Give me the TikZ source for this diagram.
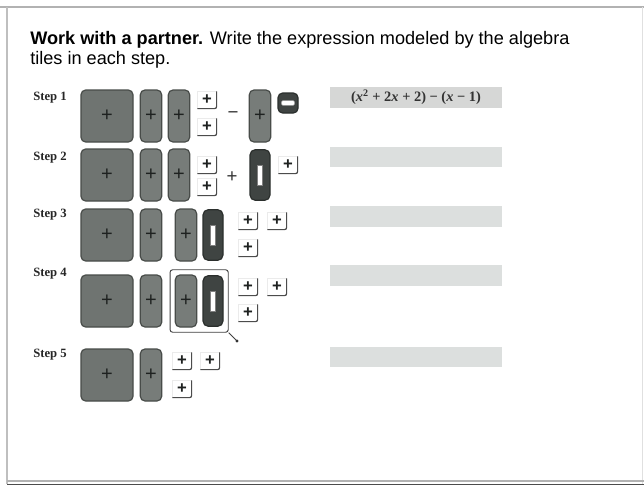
\documentclass[tikz,border=0pt]{standalone}
\usepackage{fontspec}
\usetikzlibrary{fit}
\setmainfont{Liberation Serif}
\newfontfamily\titlefont{Liberation Sans}
\definecolor{tilefill}{HTML}{6F7471}
\definecolor{rodfill}{HTML}{777C79}
\definecolor{tileedge}{HTML}{484C49}
\definecolor{darkfill}{HTML}{3F4442}
\definecolor{darkedge}{HTML}{2B2F2D}
\definecolor{ansfill}{HTML}{D6D7D6}
\definecolor{ansfillb}{HTML}{DCDFDE}
\definecolor{plusc}{HTML}{1E2120}
\tikzset{
  big/.style={draw=tileedge, line width=0.9pt, fill=tilefill, rounded corners=3.5pt,
    minimum width=39pt, minimum height=39pt, inner sep=0pt, text=plusc,
    font=\titlefont\fontsize{15}{15}\selectfont},
  rod/.style={draw=tileedge, line width=0.9pt, fill=rodfill, rounded corners=3.5pt,
    minimum width=16pt, minimum height=39pt, inner sep=0pt, text=plusc,
    font=\titlefont\fontsize{15}{15}\selectfont},
  negrod/.style={draw=darkedge, line width=0.9pt, fill=darkfill, rounded corners=4pt,
    minimum width=15pt, minimum height=38pt, inner sep=0pt},
  negbar/.style={draw=black!50, line width=0.3pt, fill=white, minimum width=3.6pt,
    minimum height=15pt, inner sep=0pt},
  unit/.style={draw=black!8, line width=0.4pt, fill=white, minimum width=14pt,
    minimum height=12.5pt, inner sep=0pt, text=plusc,
    font=\titlefont\bfseries\fontsize{12.5}{12.5}\selectfont},
  unitedge/.style={draw=black!70, line width=0.9pt, rounded corners=1.5pt},
  negunit/.style={draw=darkedge, line width=0.9pt, fill=darkfill, rounded corners=3.5pt,
    minimum width=15pt, minimum height=15pt, inner sep=0pt},
  negdash/.style={draw=black!40, line width=0.3pt, fill=white, rounded corners=1pt,
    minimum width=10pt, minimum height=3.5pt, inner sep=0pt},
  steplabel/.style={anchor=west, inner sep=0pt, font=\bfseries\fontsize{9.5}{10}\selectfont, text=black!85},
  ansbox/.style={fill=ansfill, draw=none, minimum width=129pt, minimum height=15.5pt, inner sep=0pt},
  ansboxb/.style={fill=ansfillb, draw=none, minimum width=129pt, minimum height=15.5pt, inner sep=0pt},
  opsign/.style={inner sep=0pt, font=\titlefont\fontsize{14}{14}\selectfont, text=black!80},
}
\newcommand{\unitat}[2]{\node[unit] (#1) at #2 {+};
  \draw[unitedge] (#1.north east) -- (#1.south east) -- (#1.south west);}
\begin{document}
\begin{tikzpicture}[x=0.75pt,y=-0.75pt]
\useasboundingbox (0,0) rectangle (644,487);
\fill[white] (0,0) rectangle (644,487);
% frame
\draw[black!30, line width=1.1pt] (0,7) -- (644,7);
\draw[black!25, line width=0.8pt] (7,7) -- (7,484);
\draw[black!12, line width=0.6pt] (642,7) -- (642,484);
\draw[black!30, line width=0.8pt] (7,481) -- (644,481);
\draw[black!70, line width=1.4pt] (7,484.5) -- (644,484.5);
% title
\node[anchor=base west, align=left, inner sep=0pt, font=\titlefont\fontsize{13.6}{14.3}\selectfont]
  (title) at (30,64) {\textbf{Work with a partner.} Write the expression modeled by the algebra\\tiles in each step.};
% step labels
\node[steplabel] (s1) at (33,98) {Step 1};
\node[steplabel] (s2) at (33,158) {Step 2};
\node[steplabel] (s3) at (33,215) {Step 3};
\node[steplabel] (s4) at (33,274) {Step 4};
\node[steplabel] (s5) at (33,355) {Step 5};
% step 1
\node[big] (a1) at (107,116) {+};
\node[rod] (a2) at (151,116) {+};
\node[rod] (a3) at (179,116) {+};
\unitat{a4}{(207,100)}
\unitat{a5}{(207,127)}
\node[opsign] (am) at (233,115) {\textminus};
\node[rod] (a6) at (260,116) {+};
\node[negunit] (a7) at (288,103) {};
\node[negdash] (a7d) at (a7.center) {};
% step 2
\node[big] (b1) at (107,175) {+};
\node[rod] (b2) at (151,175) {+};
\node[rod] (b3) at (179,175) {+};
\unitat{b4}{(207,165)}
\unitat{b5}{(207,187)}
\node[opsign] (bp) at (232,177) {+};
\node[negrod] (b6) at (260,175) {};
\node[negbar] (b6b) at (b6.center) {};
\unitat{b7}{(288,165)}
% step 3
\node[big] (c1) at (107,235) {+};
\node[rod] (c2) at (151,235) {+};
\node[rod] (c3) at (186,235) {+};
\node[negrod] (c4) at (213,235) {};
\node[negbar] (c4b) at (c4.center) {};
\unitat{c5}{(248,221)}
\unitat{c6}{(277,221)}
\unitat{c7}{(248,248)}
% step 4
\node[big] (d1) at (107,301) {+};
\node[rod] (d2) at (151,301) {+};
\node[rod] (d3) at (186,301) {+};
\node[negrod] (d4) at (213,301) {};
\node[negbar] (d4b) at (d4.center) {};
\node[draw=black!75, line width=0.7pt, rounded corners=2pt, inner sep=3.5pt, fit=(d3)(d4)] (sel) {};
\coordinate (hdl) at (237,341);
\draw[black!75, line width=0.7pt] (sel.south east) -- (hdl);
\fill[black!80] (hdl) circle (1.3pt);
\unitat{d5}{(248,287)}
\unitat{d6}{(277,287)}
\unitat{d7}{(248,313)}
% step 5
\node[big] (e1) at (107,375) {+};
\node[rod] (e2) at (151,375) {+};
\unitat{e3}{(182,361)}
\unitat{e4}{(210,361)}
\unitat{e5}{(182,389)}
% answer boxes
\node[ansbox] (r1) at (416,97.5) {};
\node[inner sep=0pt, font=\bfseries\fontsize{10.8}{11}\selectfont, text=black!80] (r1t) at (r1.center)
  {(\textit{x}\textsuperscript{2} + 2\textit{x} + 2) − (\textit{x} − 1)};
\node[ansboxb] (r2) at (416,157) {};
\node[ansboxb] (r3) at (416,216.5) {};
\node[ansboxb] (r4) at (416,275.5) {};
\node[ansboxb] (r5) at (416,357) {};
\end{tikzpicture}
\end{document}
